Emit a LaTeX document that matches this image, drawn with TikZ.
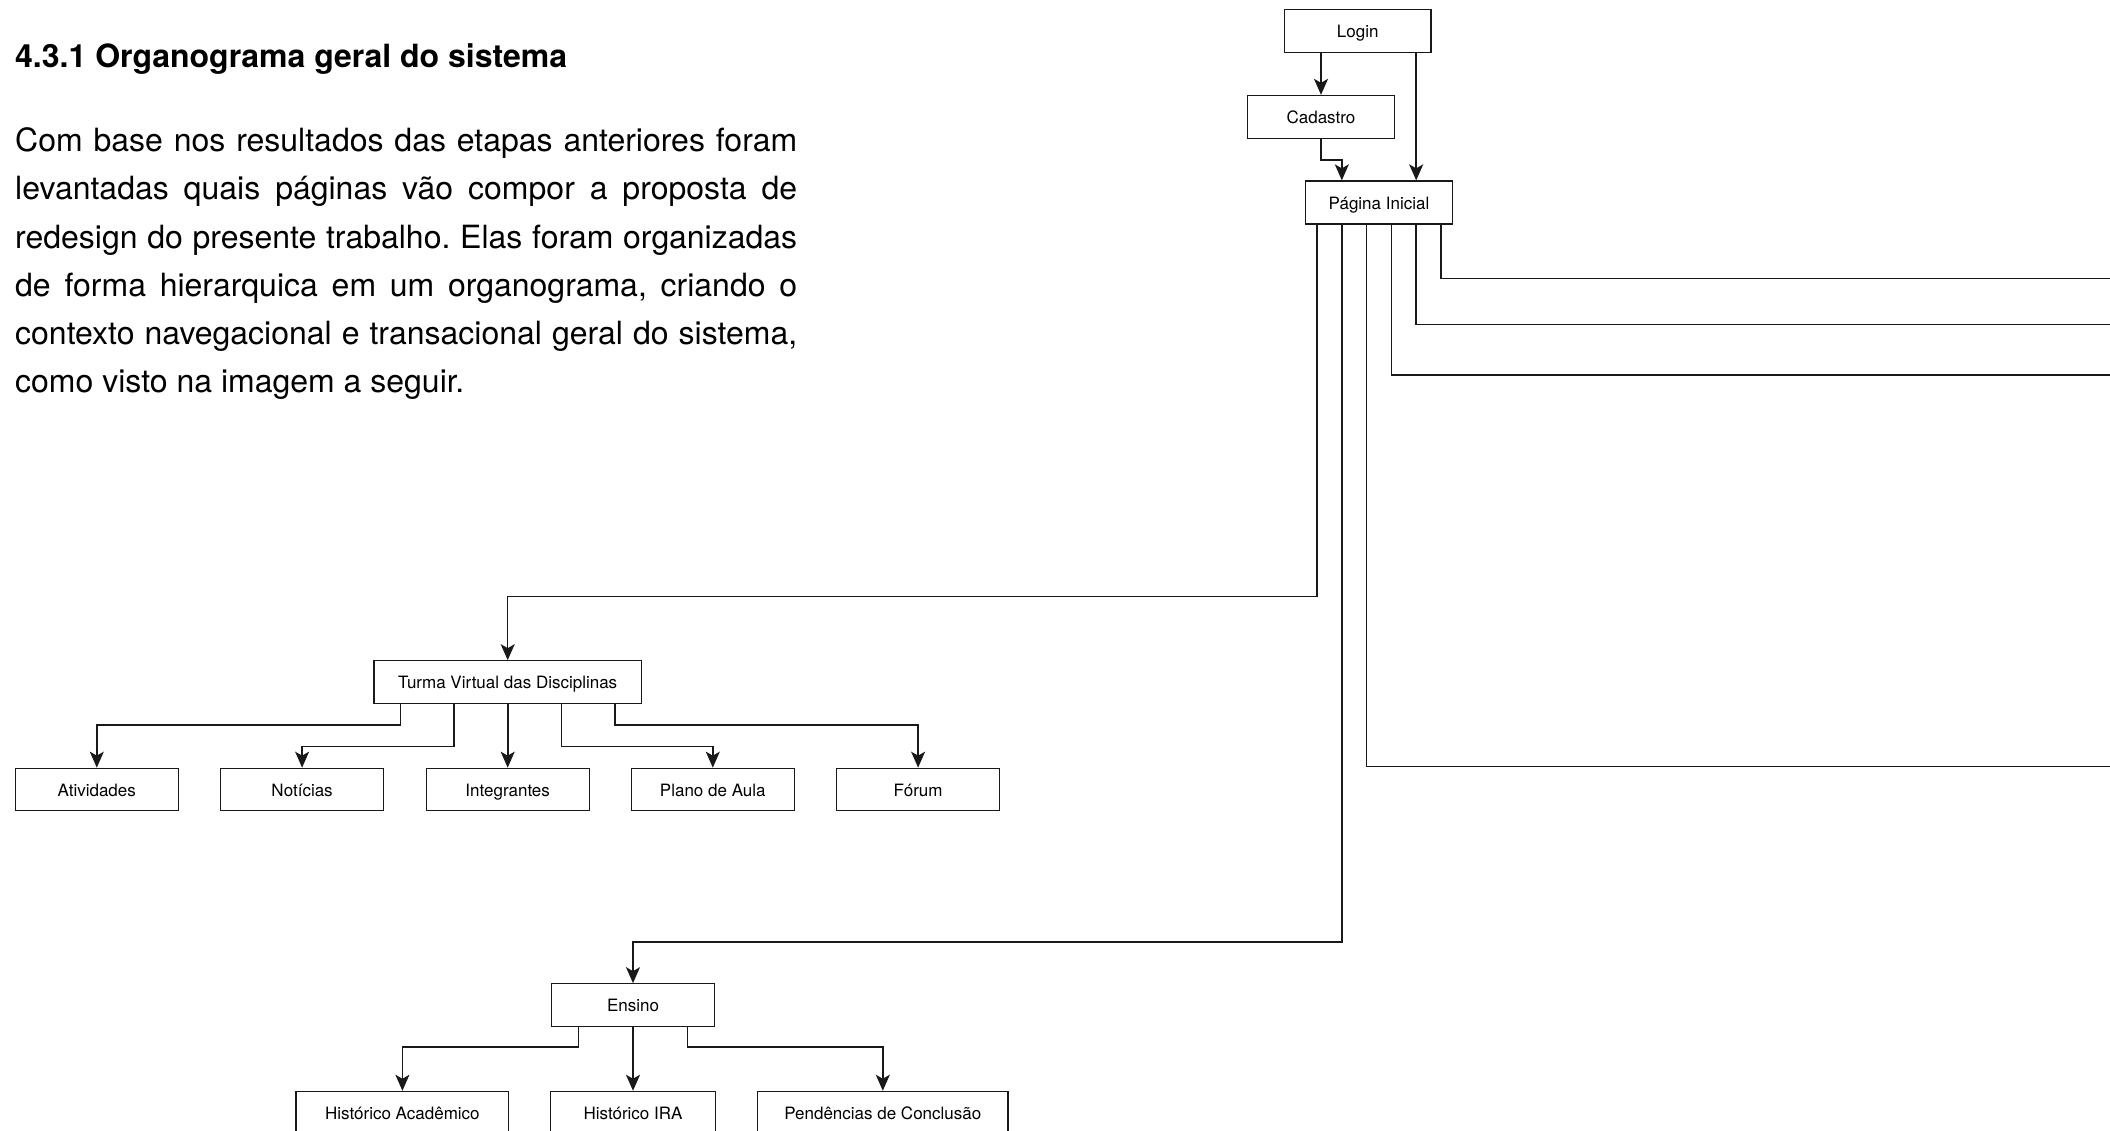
\documentclass[tikz,border=0pt]{standalone}
\usepackage{fontspec}
\setmainfont{TeX Gyre Heros}
\usetikzlibrary{arrows.meta,calc}
\frenchspacing
\begin{document}
\begin{tikzpicture}[x=1pt,y=-1pt,
  box/.style={draw=black!90, line width=1.3pt, minimum width=#1, minimum height=43pt,
    inner sep=0pt, text height=14.5pt, text depth=1.5pt, font=\fontsize{17}{20}\selectfont},
  conn/.style={draw=black!90, line width=1.4pt},
  arr/.style={conn, -{Stealth[length=16pt,width=14pt,inset=4pt]}},
  txtline/.style={anchor=base west, inner sep=0pt, font=\fontsize{32}{48}\selectfont}]
\fill[white] (0,0) rectangle (2110,1130);
\useasboundingbox (0,0) rectangle (2110,1130);

% text
\node[txtline, font=\fontsize{32}{48}\selectfont\bfseries] (head) at (15,67) {4.3.1 Organograma geral do sistema};
\node[txtline] (l1) at (15,151.7) {\makebox[782pt][s]{Com base nos resultados das etapas anteriores foram}};
\node[txtline] (l2) at (15,199.9) {\makebox[782pt][s]{levantadas quais páginas vão compor a proposta de}};
\node[txtline] (l3) at (15,248.1) {\makebox[782pt][s]{redesign do presente trabalho. Elas foram organizadas}};
\node[txtline] (l4) at (15,296.3) {\makebox[782pt][s]{de forma hierarquica em um organograma, criando o}};
\node[txtline] (l5) at (15,344.5) {\makebox[782pt][s]{contexto navegacional e transacional geral do sistema,}};
\node[txtline] (l6) at (15,392.7) {como visto na imagem a seguir.};

% boxes
\node[box=146.6pt] (login) at (1357.7,30.8) {Login};
\node[box=146.6pt] (cad) at (1321,117) {Cadastro};
\node[box=147.4pt] (pag) at (1379,202.5) {Página Inicial};
\node[box=267.3pt] (turma) at (507.7,682.3) {Turma Virtual das Disciplinas};
\node[box=163pt, minimum height=42.4pt] (ativ) at (96.8,789.5) {Atividades};
\node[box=163pt, minimum height=42.4pt] (noti) at (302.1,789.5) {Notícias};
\node[box=163pt, minimum height=42.4pt] (integ) at (507.7,789.5) {Integrantes};
\node[box=163pt, minimum height=42.4pt] (plano) at (712.8,789.5) {Plano de Aula};
\node[box=163pt, minimum height=42.4pt] (forum) at (918.1,789.5) {Fórum};
\node[box=163pt] (ensino) at (633,1005.3) {Ensino};
\node[box=212.7pt, minimum height=42.4pt] (hacad) at (402.4,1112.6) {Histórico Acadêmico};
\node[box=165.6pt, minimum height=42.4pt] (hira) at (633,1112.6) {Histórico IRA};
\node[box=250.4pt, minimum height=42.4pt] (pend) at (882.8,1112.6) {Pendências de Conclusão};

% login / cadastro
\coordinate (pin1) at ($(pag.north west)!0.25!(pag.north east)$);
\coordinate (pin2) at ($(pag.north west)!0.75!(pag.north east)$);
\draw[arr, line width=1.8pt] (login.south -| cad.north) -- (cad.north);
\draw[arr, line width=1.8pt] (login.south -| pin2) -- (pin2);
\coordinate (cadbend) at (cad.south |- 0,160);
\draw[arr] (cad.south) -- (cadbend) -| (pin1);

% pagina inicial exits
\coordinate (p1) at ($(pag.south west)!0.08333!(pag.south east)$);
\coordinate (p2) at ($(pag.south west)!0.25!(pag.south east)$);
\coordinate (p3) at ($(pag.south west)!0.41667!(pag.south east)$);
\coordinate (p4) at ($(pag.south west)!0.58333!(pag.south east)$);
\coordinate (p5) at ($(pag.south west)!0.75!(pag.south east)$);
\coordinate (p6) at ($(pag.south west)!0.91667!(pag.south east)$);
\coordinate (r3) at (2120,766.7);
\coordinate (r4) at (2120,375);
\coordinate (r5) at (2120,324.3);
\coordinate (r6) at (2120,278.5);
\draw[arr] (p1) |- (turma.north |- 0,596.7) -- (turma.north);
\draw[arr] (p2) |- (ensino.north |- 0,942) -- (ensino.north);
\draw[conn] (p3) |- (r3);
\draw[conn] (p4) |- (r4);
\draw[conn] (p5) |- (r5);
\draw[conn] (p6) |- (r6);

% turma exits
\coordinate (t1) at ($(turma.south west)!0.1!(turma.south east)$);
\coordinate (t2) at ($(turma.south west)!0.3!(turma.south east)$);
\coordinate (t4) at ($(turma.south west)!0.7!(turma.south east)$);
\coordinate (t5) at ($(turma.south west)!0.9!(turma.south east)$);
\draw[arr] (t1) |- (ativ.north |- 0,725) -- (ativ.north);
\draw[arr] (t2) |- (noti.north |- 0,746.7) -- (noti.north);
\draw[arr, line width=1.8pt] (turma.south) -- (integ.north);
\draw[arr] (t4) |- (plano.north |- 0,746.7) -- (plano.north);
\draw[arr] (t5) |- (forum.north |- 0,725) -- (forum.north);

% ensino exits
\coordinate (e1) at ($(ensino.south west)!0.16667!(ensino.south east)$);
\coordinate (e5) at ($(ensino.south west)!0.83333!(ensino.south east)$);
\draw[arr] (e1) |- (hacad.north |- 0,1047) -- (hacad.north);
\draw[arr, line width=1.8pt] (ensino.south) -- (hira.north);
\draw[arr] (e5) |- (pend.north |- 0,1047) -- (pend.north);
\end{tikzpicture}
\end{document}
